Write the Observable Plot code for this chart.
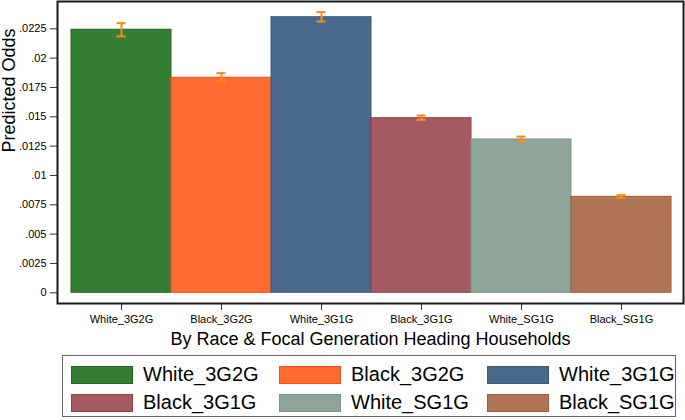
<!DOCTYPE html>
<html>
<head>
<meta charset="utf-8">
<script src="https://cdn.jsdelivr.net/npm/d3@7"></script>
<script src="https://cdn.jsdelivr.net/npm/@observablehq/plot@0.6"></script>
<style>
  html, body { margin: 0; padding: 0; background: #fff; }
  body { width: 685px; height: 420px; position: relative; overflow: hidden; font-family: "Liberation Sans", Arial, Helvetica, sans-serif; }
  #chart { position: absolute; left: 0; top: 0; }
  #legend { position: absolute; left: 62px; top: 355px; width: 614px; height: 62px; border: 1px solid #666; box-sizing: border-box; }
  .item { position: absolute; display: flex; align-items: center; font-size: 20px; color: #000; height: 19px; white-space: nowrap; }
  .sw { width: 62px; height: 18px; box-sizing: border-box; border: 1px solid; margin-right: 10px; }
</style>
</head>
<body>
<div id="chart"></div>
<div id="legend"></div>
<script>
const categories = ["White_3G2G", "Black_3G2G", "White_3G1G", "Black_3G1G", "White_SG1G", "Black_SG1G"];
const predicted = [0.02242, 0.01833, 0.02349, 0.01488, 0.01307, 0.00818];
const ciLow  = [0.02185, 0.01801, 0.02312, 0.01474, 0.01290, 0.00810];
const ciHigh = [0.02298, 0.01872, 0.02392, 0.01511, 0.01332, 0.00832];
const fills   = ["#367e33", "#ff6a31", "#49698a", "#a45b60", "#8ca598", "#b07556"];
const strokes = ["#23661f", "#e8561c", "#3b5b7c", "#913f48", "#7e968a", "#a45a3a"];
const yTicks = [0, 0.0025, 0.005, 0.0075, 0.01, 0.0125, 0.015, 0.0175, 0.02, 0.0225];
const xTitle = "By Race & Focal Generation Heading Households";
const yTitle = "Predicted Odds";
const errColor = "#ff8a14";

const data = categories.map((c, i) => ({cat: c, v: predicted[i], lo: ciLow[i], hi: ciHigh[i], fill: fills[i], stroke: strokes[i]}));

const fmt = d => d === 0 ? "0" : String(+d.toFixed(4)).replace(/^0/, "");

const chart = Plot.plot({
  width: 685,
  height: 350,
  marginLeft: 57,
  marginRight: 2,
  marginTop: 1,
  marginBottom: 47,
  style: {fontFamily: '"Liberation Sans", Arial, sans-serif', color: "#000", background: "#fff"},
  x: {domain: categories, range: [68, 673], padding: 0, axis: null},
  y: {domain: [0, 0.0225], range: [292.3, 28.3], axis: null},
  marks: [
    Plot.barY(data, {x: "cat", y1: 0, y2: "v", fill: "fill", stroke: "stroke", strokeWidth: 1, inset: 0}),
    Plot.ruleX(data, {x: "cat", y1: "lo", y2: "hi", stroke: errColor, strokeWidth: 2}),
    Plot.tickY(data, {x: "cat", y: "lo", stroke: errColor, strokeWidth: 2, insetLeft: 45.5, insetRight: 45.5}),
    Plot.tickY(data, {x: "cat", y: "hi", stroke: errColor, strokeWidth: 2, insetLeft: 45.5, insetRight: 45.5}),
    Plot.axisY({ticks: yTicks, tickFormat: fmt, tickSize: 7, tickPadding: 4, fontSize: 11, stroke: "#333", label: null}),
    Plot.axisX({tickSize: 7, tickPadding: 5, fontSize: 11, stroke: "#333", label: null}),
    Plot.frame({stroke: "#1a1a1a", strokeWidth: 2}),
    Plot.text([xTitle], {frameAnchor: "bottom", dy: 41, fontSize: 18, lineAnchor: "bottom", fill: "#000"}),
    Plot.text([yTitle], {frameAnchor: "left", dx: -48.5, rotate: -90, fontSize: 18, fill: "#000"})
  ]
});
document.getElementById("chart").appendChild(chart);

const legend = document.getElementById("legend");
categories.forEach((c, i) => {
  const col = i % 3, row = Math.floor(i / 3);
  const item = document.createElement("div");
  item.className = "item";
  item.style.left = (8 + col * 208) + "px";
  item.style.top = (9 + row * 28) + "px";
  const sw = document.createElement("div");
  sw.className = "sw";
  sw.style.background = fills[i];
  sw.style.borderColor = strokes[i];
  const t = document.createElement("span");
  t.textContent = c;
  item.appendChild(sw);
  item.appendChild(t);
  legend.appendChild(item);
});
</script>
</body>
</html>
